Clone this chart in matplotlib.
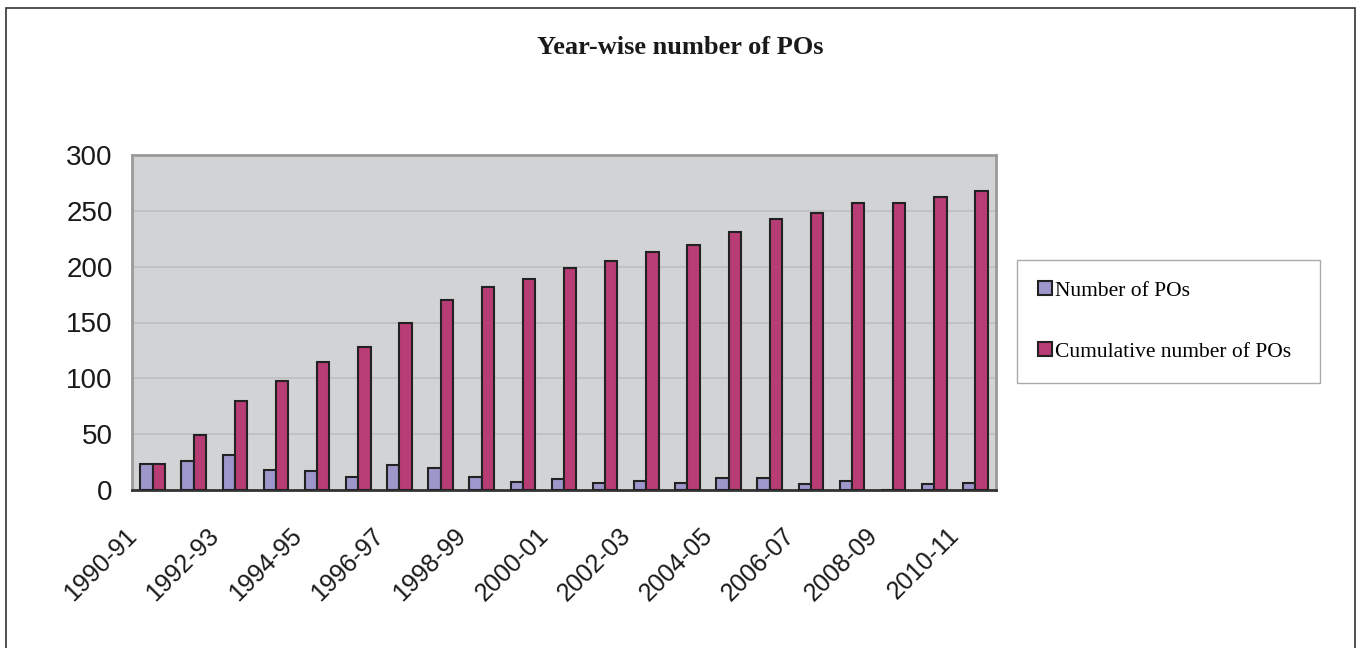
import matplotlib
matplotlib.use("Agg")
import matplotlib.pyplot as plt
import matplotlib.transforms as mtransforms
import numpy as np
from matplotlib.patches import Rectangle

years = ["1990-91", "1991-92", "1992-93", "1993-94", "1994-95", "1995-96", "1996-97",
         "1997-98", "1998-99", "1999-00", "2000-01", "2001-02", "2002-03", "2003-04",
         "2004-05", "2005-06", "2006-07", "2007-08", "2008-09", "2009-10", "2010-11"]
number_pos = [23, 26, 31, 18, 17, 12, 22, 20, 12, 7, 10, 6, 8, 6, 11, 11, 5, 8, 0, 5, 6]
cumulative_pos = [23, 49, 80, 98, 115, 128, 150, 170, 182, 189, 199, 205, 213, 219,
                  231, 243, 248, 257, 257, 262, 268]
yticks = [0, 50, 100, 150, 200, 250, 300]

W, H = 1363, 648
fig = plt.figure(figsize=(W / 100, H / 100), dpi=100)
fig.patch.set_facecolor("white")

# outer border
fig.add_artist(Rectangle((6 / W, -0.05), (1355 - 6) / W, 1.05 - 8 / H,
                         transform=fig.transFigure, fill=False,
                         edgecolor="#333333", linewidth=1.2))

ax = fig.add_axes([132 / W, 1 - 490 / H, (996 - 132) / W, (490 - 155) / H])
ax.set_facecolor("#D2D3D5")

x = np.arange(len(years))
bw = 0.3
c1, c2 = "#9E97CB", "#B83D75"
ax.bar(x - bw / 2, number_pos, bw, color=c1, edgecolor="#222222", linewidth=1.5,
       label="Number of POs", zorder=3)
ax.bar(x + bw / 2, cumulative_pos, bw, color=c2, edgecolor="#222222", linewidth=1.5,
       label="Cumulative number of POs", zorder=3)

ax.set_xlim(-0.5, len(years) - 0.5)
ax.set_ylim(0, 300)
ax.set_yticks(yticks)
ax.yaxis.grid(True, color="#BDBEC0", linewidth=1.2, zorder=0)
ax.set_axisbelow(True)

ax.tick_params(axis="y", length=0, pad=14, labelsize=20, labelcolor="#1a1a1a")
for lab in ax.get_yticklabels():
    lab.set_family(["Liberation Sans", "DejaVu Sans"])

ax.set_xticks(x[::2])
ax.set_xticklabels(years[::2], rotation=45, ha="right", rotation_mode="anchor",
                   fontsize=18, family=["Liberation Sans", "DejaVu Sans"], color="#1a1a1a")
ax.tick_params(axis="x", length=0, pad=24)
offset = mtransforms.ScaledTranslation(-28 / 100, 0, fig.dpi_scale_trans)
for lab in ax.get_xticklabels():
    lab.set_transform(lab.get_transform() + offset)

for s in ["left", "top", "right"]:
    ax.spines[s].set_color("#9A9A9A")
    ax.spines[s].set_linewidth(2)
ax.spines["bottom"].set_color("#333333")
ax.spines["bottom"].set_linewidth(2)

fig.text(680 / W, 1 - 47 / H, "Year-wise number of POs", ha="center", va="center",
         fontsize=19, fontweight="bold", family=["Liberation Serif", "DejaVu Serif"],
         color="#1a1a1a")

leg = fig.legend(loc="upper left",
                 bbox_to_anchor=(1017 / W, 1 - 380 / H, 303 / W, 120 / H),
                 mode="expand",
                 frameon=True, fancybox=False, edgecolor="#AAAAAA", framealpha=1,
                 prop={"family": ["Liberation Serif", "DejaVu Serif"], "size": 15.5},
                 handlelength=0.65, handleheight=0.65, handletextpad=0.15,
                 labelspacing=1.92, borderpad=0.97, borderaxespad=0)
leg.get_frame().set_linewidth(1)

fig.savefig("out.png", dpi=100, facecolor="white")
